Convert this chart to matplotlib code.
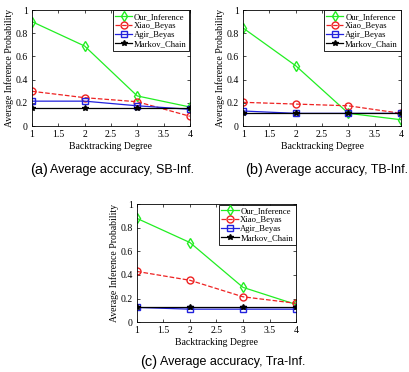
import matplotlib.pyplot as plt

degree = [1, 2, 3, 4]

# (a) SB-Inf.
sb_ours = [0.90, 0.69, 0.26, 0.165]
sb_xiao = [0.30, 0.245, 0.21, 0.085]
sb_agir = [0.215, 0.215, 0.175, 0.145]
sb_markov = [0.155, 0.155, 0.155, 0.155]

# (b) TB-Inf.
tb_ours = [0.845, 0.52, 0.11, 0.055]
tb_xiao = [0.205, 0.19, 0.175, 0.11]
tb_agir = [0.13, 0.11, 0.11, 0.11]
tb_markov = [0.112, 0.112, 0.112, 0.112]

# (c) Tra-Inf.
tra_ours = [0.88, 0.675, 0.295, 0.15]
tra_xiao = [0.43, 0.355, 0.215, 0.16]
tra_agir = [0.125, 0.11, 0.11, 0.11]
tra_markov = [0.128, 0.128, 0.128, 0.128]

labels = ["Our_Inference", "Xiao_Beyas", "Agir_Beyas", "Markov_Chain"]
tags = ["(a)", "(b)", "(c)"]
captions = ["Average accuracy, SB-Inf.", "Average accuracy, TB-Inf.", "Average accuracy, Tra-Inf."]

serif = "Liberation Serif"
sans = "Liberation Sans"
W, H = 410, 372

fig = plt.figure(figsize=(4.1, 3.72), dpi=100)
rects = [[0.078, 0.661, 0.385, 0.312],
         [0.593, 0.661, 0.385, 0.312],
         [0.334, 0.134, 0.388, 0.317]]
# caption anchor in pixels: tag x, text x, y
cap_pos = [(30, 50, 170), (245, 265, 170), (140, 160, 362)]
data = [(sb_ours, sb_xiao, sb_agir, sb_markov),
        (tb_ours, tb_xiao, tb_agir, tb_markov),
        (tra_ours, tra_xiao, tra_agir, tra_markov)]

for rect, (ours, xiao, agir, markov), tag, cap, pos in zip(rects, data, tags, captions, cap_pos):
    ax = fig.add_axes(rect)
    ax.plot(degree, ours, color="#22ee22", marker="d", mfc="none", ms=5, lw=0.9, label=labels[0])
    ax.plot(degree, xiao, color="#ee2222", ls="--", marker="o", mfc="none", ms=5, lw=0.9, label=labels[1])
    ax.plot(degree, agir, color="#2222dd", marker="s", mfc="none", ms=4.5, lw=0.9, label=labels[2])
    ax.plot(degree, markov, color="black", marker="*", ms=4, lw=0.9, label=labels[3])
    ax.set_xlim(1, 4)
    ax.set_ylim(0, 1)
    ax.set_xticks([1, 1.5, 2, 2.5, 3, 3.5, 4])
    ax.set_xticklabels(["1", "1.5", "2", "2.5", "3", "3.5", "4"])
    ax.set_yticks([0, 0.2, 0.4, 0.6, 0.8, 1])
    ax.set_yticklabels(["0", "0.2", "0.4", "0.6", "0.8", "1"])
    ax.tick_params(direction="in", length=2.5, width=0.5, labelsize=7, top=True, right=True, pad=3)
    for lab in ax.get_xticklabels() + ax.get_yticklabels():
        lab.set_family(serif)
    for s in ax.spines.values():
        s.set_linewidth(0.6)
    ax.set_xlabel("Backtracking Degree", family=serif, fontsize=7, labelpad=2)
    ax.set_ylabel("Average Inference Probability", family=serif, fontsize=7, labelpad=1)
    leg = ax.legend(loc="upper right", prop={"family": serif, "size": 6.2}, handlelength=2.0,
                    handletextpad=0.2, borderpad=0.3, labelspacing=0.12, fancybox=False,
                    edgecolor="black", framealpha=1, borderaxespad=0.05)
    leg.get_frame().set_linewidth(0.6)
    # caption under each panel
    fig.text(pos[0] / W, 1 - pos[2] / H, tag, ha="left", va="center", family=sans, fontsize=10.5)
    fig.text(pos[1] / W, 1 - pos[2] / H, cap, ha="left", va="center", family=sans, fontsize=9)

fig.savefig("out.png", dpi=100)
